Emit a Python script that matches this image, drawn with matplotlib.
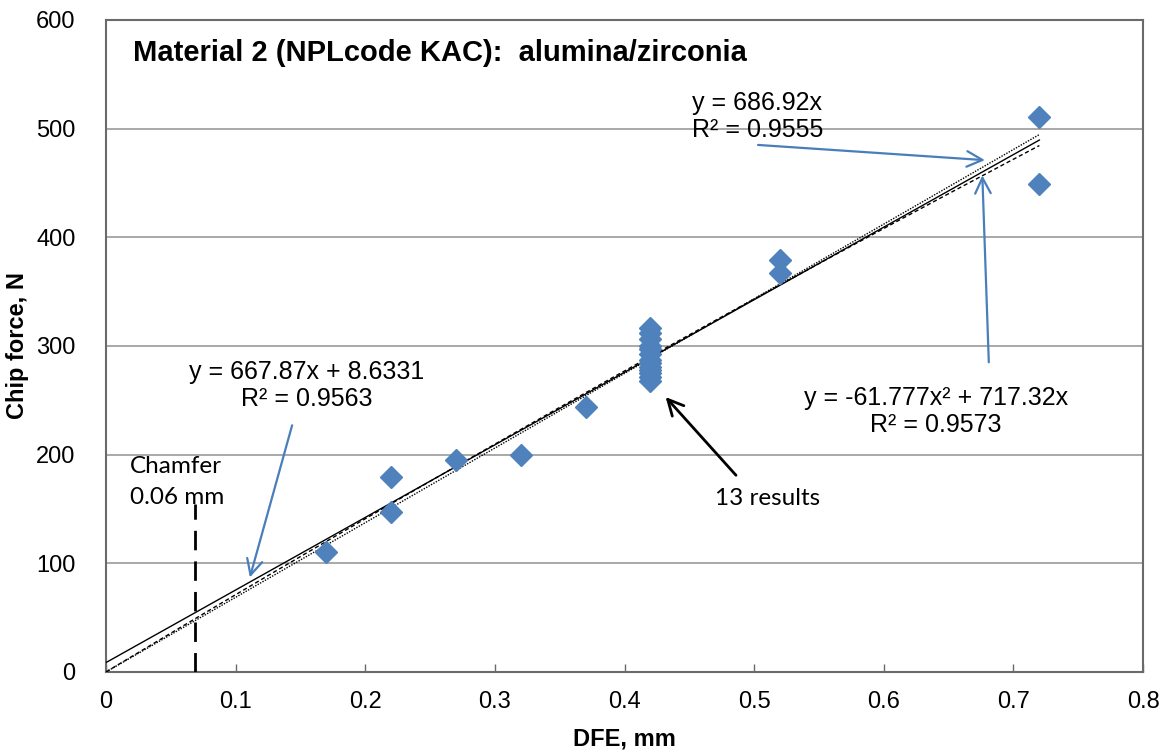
import numpy as np
import matplotlib.pyplot as plt

# DFE (mm) and chip force (N) measurements
dfe = [0.17, 0.22, 0.22, 0.27, 0.32, 0.37,
       0.42, 0.42, 0.42, 0.42, 0.42, 0.42, 0.42, 0.42, 0.42, 0.42, 0.42, 0.42, 0.42,
       0.52, 0.52, 0.72, 0.72]
force = [110, 179, 147, 195, 200, 244,
         317, 312, 306, 300, 297, 293, 287, 284, 281, 278, 275, 271, 268,
         379, 367, 511, 449]

# Trend line coefficients
lin_origin = 686.92
lin_slope, lin_icpt = 667.87, 8.6331
quad_a, quad_b = -61.777, 717.32
chamfer_x, chamfer_top = 0.069, 155

blue = '#4A7EBB'
eq_font = 'Liberation Sans'
note_font = 'Lato'

fig = plt.figure(figsize=(11.67, 7.54), dpi=100)
ax = fig.add_axes([0.0908, 0.1088, 0.8887, 0.8647])

xx = np.linspace(0, 0.72, 200)
ax.plot(xx, lin_slope * xx + lin_icpt, color='black', lw=1.0, zorder=3)
ax.plot(xx, lin_origin * xx, color='black', lw=1.0, ls=(0, (1, 1)), zorder=3)
ax.plot(xx, quad_a * xx ** 2 + quad_b * xx, color='black', lw=1.0, ls=(0, (3, 2)), zorder=3)

ax.plot(dfe, force, ls='none', marker='D', ms=11, color='#4F81BD', mec='#4F81BD', zorder=4)

# chamfer marker
ax.plot([chamfer_x, chamfer_x], [0, chamfer_top], color='black', lw=2, ls=(0, (7, 4)), zorder=3)

ax.set_xlim(0, 0.8)
ax.set_ylim(0, 600)
ax.set_xticks(np.arange(0, 0.81, 0.1))
ax.set_xticklabels(['0', '0.1', '0.2', '0.3', '0.4', '0.5', '0.6', '0.7', '0.8'])
ax.set_yticks(range(0, 601, 100))
ax.yaxis.grid(True, color='#9a9a9a', lw=1.2)
ax.set_axisbelow(True)
for s in ax.spines.values():
    s.set_color('#6a6a6a')
    s.set_linewidth(1.5)
ax.tick_params(axis='x', direction='in', length=6, width=1, color='#6a6a6a', pad=14)
ax.tick_params(axis='y', length=0, pad=22)
for lab in ax.get_xticklabels() + ax.get_yticklabels():
    lab.set_fontfamily(eq_font)
    lab.set_fontsize(17)

ax.set_xlabel('DFE, mm', fontfamily=eq_font, fontsize=17, fontweight='bold')
ax.set_ylabel('Chip force, N', fontfamily=eq_font, fontsize=17, fontweight='bold')
ax.xaxis.set_label_coords(0.5, -0.085)
ax.yaxis.set_label_coords(-0.074, 0.5)

ax.text(0.0208, 570, 'Material 2 (NPLcode KAC):  alumina/zirconia', fontfamily=eq_font,
        fontsize=21, fontweight='bold', va='center', ha='left')

ax.text(0.452, 524, 'y = 686.92x', fontfamily=eq_font, fontsize=18, va='center', ha='left')
ax.text(0.452, 499, 'R² = 0.9555', fontfamily=eq_font, fontsize=18, va='center', ha='left')
ax.text(0.155, 276, 'y = 667.87x + 8.6331', fontfamily=eq_font, fontsize=18, va='center', ha='center')
ax.text(0.155, 251, 'R² = 0.9563', fontfamily=eq_font, fontsize=18, va='center', ha='center')
ax.text(0.640, 252, 'y = -61.777x² + 717.32x', fontfamily=eq_font, fontsize=18, va='center', ha='center')
ax.text(0.640, 227, 'R² = 0.9573', fontfamily=eq_font, fontsize=18, va='center', ha='center')

ax.text(0.0185, 189, 'Chamfer', fontfamily=note_font, fontsize=17.5, va='center', ha='left')
ax.text(0.0185, 161, '0.06 mm', fontfamily=note_font, fontsize=17.5, va='center', ha='left')
ax.text(0.51, 160, '13 results', fontfamily=note_font, fontsize=17.5, va='center', ha='center')

blue_arrow = dict(arrowstyle='->', color=blue, lw=1.6, mutation_scale=28, shrinkA=0, shrinkB=0)
ax.annotate('', xy=(0.678, 471), xytext=(0.503, 485), arrowprops=blue_arrow)
ax.annotate('', xy=(0.676, 457), xytext=(0.681, 285), arrowprops=blue_arrow)
ax.annotate('', xy=(0.111, 87), xytext=(0.1436, 227), arrowprops=blue_arrow)
ax.annotate('', xy=(0.4317, 253), xytext=(0.486, 181),
            arrowprops=dict(arrowstyle='->', color='black', lw=2, mutation_scale=28,
                            shrinkA=0, shrinkB=0))

fig.savefig('out.png', dpi=100)
